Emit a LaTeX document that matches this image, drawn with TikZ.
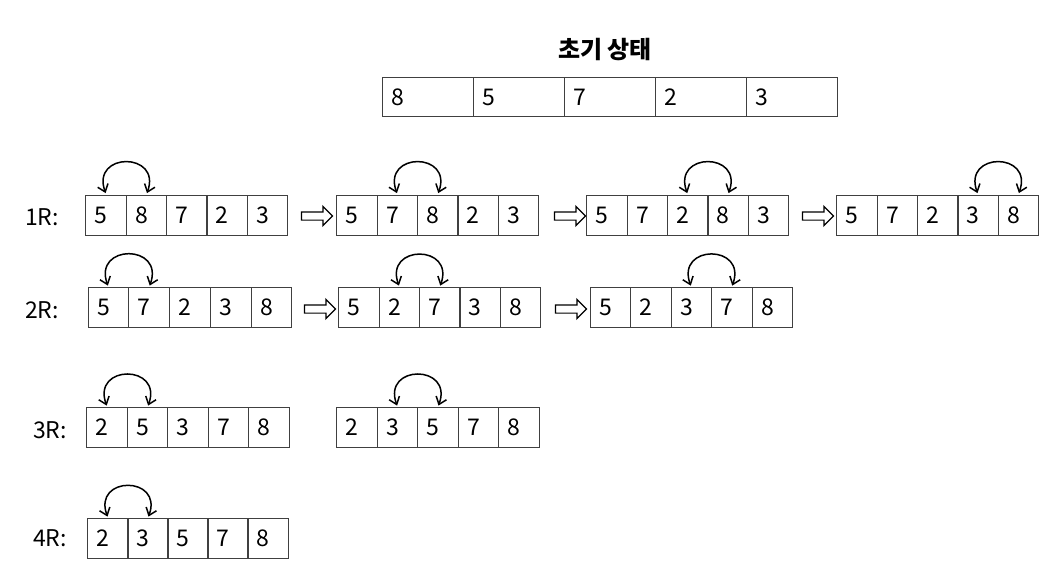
\documentclass[tikz,border=0pt]{standalone}
\usepackage{fontspec}
\setmainfont{Noto Sans CJK KR}
\usetikzlibrary{arrows.meta,shapes.arrows}

\begin{document}
\begin{tikzpicture}[x=1pt,y=-1pt,
  font=\fontsize{23}{26}\selectfont,
  cell/.style={rectangle,draw=black!75,line width=1pt,minimum width=40.5pt,minimum height=40pt,inner xsep=9pt,inner ysep=0pt,text width=22.5pt,align=left},
  bigcell/.style={cell,minimum width=91pt,text width=73pt,minimum height=39pt},
  swaparc/.style={{Straight Barb[length=7pt,width=11pt]}-{Straight Barb[length=7pt,width=11pt]},line width=1.5pt,shorten <=1.5pt,shorten >=1.5pt},
  passarrow/.style={single arrow,draw=black,line width=1.2pt,fill=white,inner sep=3.5pt,minimum height=31pt,single arrow head extend=5.5pt}
]
\useasboundingbox (0,0) rectangle (1047,567);
% Bubble sort passes: one row per round, swapped pair marked by a curved arrow.
\node[font=\fontsize{24}{28}\selectfont\bfseries] (title) at (605,50) {초기 상태};
\foreach \v [count=\i] in {8,5,7,2,3}
  \node[bigcell] (init-\i) at (382+91*\i-45.5,97.5) {\v};

\node (lab1) at (42,217) {1R:};
\foreach \v [count=\i] in {5,8,7,2,3}
  \node[cell] (r1a-\i) at (86+40.3*\i-20.15,215) {\v};
\foreach \v [count=\i] in {5,7,8,2,3}
  \node[cell] (r1b-\i) at (337+40.3*\i-20.15,215) {\v};
\foreach \v [count=\i] in {5,7,2,8,3}
  \node[cell] (r1c-\i) at (587+40.3*\i-20.15,215) {\v};
\foreach \v [count=\i] in {5,7,2,3,8}
  \node[cell] (r1d-\i) at (837+40.3*\i-20.15,215) {\v};
\node[passarrow] (p1a) at (315,216) {};
\node[passarrow] (p1b) at (568,216) {};
\node[passarrow] (p1c) at (816,216) {};
\draw[swaparc] (r1a-1.north) to[out=110,in=70,looseness=2.9] (r1a-2.north);
\draw[swaparc] (r1b-2.north) to[out=110,in=70,looseness=2.9] (r1b-3.north);
\draw[swaparc] (r1c-3.north) to[out=110,in=70,looseness=2.9] (r1c-4.north);
\draw[swaparc] (r1d-4.north) to[out=110,in=70,looseness=2.9] (r1d-5.north);

\node (lab2) at (42,310) {2R:};
\foreach \v [count=\i] in {5,7,2,3,8}
  \node[cell] (r2a-\i) at (88+40.8*\i-20.4,307.5) {\v};
\foreach \v [count=\i] in {5,2,7,3,8}
  \node[cell] (r2b-\i) at (339+40.3*\i-20.15,307.5) {\v};
\foreach \v [count=\i] in {5,2,3,7,8}
  \node[cell] (r2c-\i) at (590+40.5*\i-20.25,307.5) {\v};
\node[passarrow] (p2a) at (318,309) {};
\node[passarrow] (p2b) at (569,309) {};
\draw[swaparc] (r2a-1.north) to[out=110,in=70,looseness=2.9] (r2a-2.north);
\draw[swaparc] (r2b-2.north) to[out=110,in=70,looseness=2.9] (r2b-3.north);
\draw[swaparc] (r2c-3.north) to[out=110,in=70,looseness=2.9] (r2c-4.north);

\node (lab3) at (50,430) {3R:};
\foreach \v [count=\i] in {2,5,3,7,8}
  \node[cell] (r3a-\i) at (87+40.4*\i-20.2,427.5) {\v};
\foreach \v [count=\i] in {2,3,5,7,8}
  \node[cell] (r3b-\i) at (337+40.4*\i-20.2,427.5) {\v};
\draw[swaparc] (r3a-1.north) to[out=110,in=70,looseness=2.9] (r3a-2.north);
\draw[swaparc] (r3b-2.north) to[out=110,in=70,looseness=2.9] (r3b-3.north);

\node (lab4) at (50,538) {4R:};
\foreach \v [count=\i] in {2,3,5,7,8}
  \node[cell] (r4a-\i) at (88+40*\i-20,538.5) {\v};
\draw[swaparc] (r4a-1.north) to[out=110,in=70,looseness=2.9] (r4a-2.north);
\end{tikzpicture}
\end{document}
